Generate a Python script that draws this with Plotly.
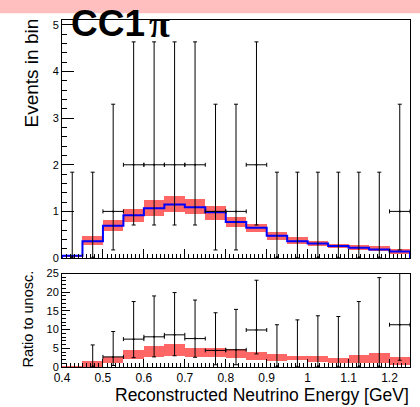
import plotly.graph_objects as go

# ---- data ----
bin_lo = [0.40, 0.45, 0.50, 0.55, 0.60, 0.65, 0.70, 0.75, 0.80, 0.85,
          0.90, 0.95, 1.00, 1.05, 1.10, 1.15, 1.20]
bin_width = 0.05
x_max = 1.25

pred = [0.05, 0.36, 0.69, 0.92, 1.07, 1.15, 1.09, 0.98, 0.77, 0.65,
        0.48, 0.36, 0.31, 0.26, 0.22, 0.18, 0.14]
band_lo = [0.03, 0.27, 0.57, 0.77, 0.91, 0.98, 0.94, 0.81, 0.66, 0.56,
           0.38, 0.31, 0.26, 0.21, 0.18, 0.14, 0.09]
band_hi = [0.07, 0.48, 0.82, 1.06, 1.25, 1.34, 1.27, 1.12, 0.88, 0.74,
           0.56, 0.44, 0.37, 0.31, 0.27, 0.25, 0.19]

data = [0, 0, 1, 2, 2, 2, 2, 1, 1, 2, 0, 0, 0, 0, 0, 0, 1]
data_lo = [0, 0, 0.173, 0.708, 0.708, 0.708, 0.708, 0.173, 0.173, 0.708,
           0, 0, 0, 0, 0, 0, 0.173]
data_hi = [1.841, 1.841, 3.300, 4.638, 4.638, 4.638, 4.638, 3.300, 3.300, 4.638,
           1.841, 1.841, 1.841, 1.841, 1.841, 1.841, 3.300]

ratio = [None, 0, 2.7, 7.45, 8.07, 8.6, 7.6, 4.43, 4.6, 9.9,
         0, 0, 0, 0, 0, 0, 11.3]
ratio_lo = [None, 0, 0.4, 2.5, 2.7, 3.0, 2.6, 0.6, 0.6, 3.5,
            0, 0, 0, 0, 0, 0, 1.8]
ratio_hi = [None, 5.9, 9.5, 17.5, 19.0, 19.9, 17.9, 14.5, 15.4, 23.2,
            11.3, 12.6, 13.7, 13.5, 17.5, 23.9, 37.3]

rband_lo = [0.0, 0.2, 1.1, 2.2, 2.7, 3.0, 2.7, 2.7, 2.6, 2.0,
            1.8, 2.0, 1.5, 1.3, 1.1, 1.1, 0.6]
rband_hi = [0.3, 1.7, 2.8, 4.6, 5.7, 6.4, 5.3, 5.3, 4.9, 4.2,
            3.5, 3.1, 3.0, 2.6, 3.3, 4.0, 2.8]

# ---- derived ----
centers = [b + bin_width / 2 for b in bin_lo]
step_x = [bin_lo[0]] + bin_lo + [x_max, x_max]
step_y = [0] + pred + [pred[-1], 0]

FONT = "Liberation Sans"
BAND = "rgba(255,0,0,0.6)"

fig = go.Figure()

# top panel band
fig.add_trace(go.Bar(x=centers, y=[h - l for h, l in zip(band_hi, band_lo)], base=band_lo,
                     width=bin_width, marker=dict(color=BAND, line=dict(width=0)),
                     xaxis="x", yaxis="y", showlegend=False))
# top panel prediction
fig.add_trace(go.Scatter(x=step_x, y=step_y, mode="lines", line=dict(color="blue", width=2, shape="hv"),
                         xaxis="x", yaxis="y", showlegend=False))
# top panel data
fig.add_trace(go.Scatter(
    x=centers, y=data, mode="markers", marker=dict(size=2, color="black"),
    error_y=dict(type="data", symmetric=False,
                 array=[h - d for h, d in zip(data_hi, data)],
                 arrayminus=[d - l for d, l in zip(data, data_lo)],
                 color="black", thickness=1, width=2),
    error_x=dict(type="data", array=[bin_width / 2 if d > 0 else 0 for d in data],
                 color="black", thickness=1, width=2),
    xaxis="x", yaxis="y", showlegend=False))

# bottom panel band
fig.add_trace(go.Bar(x=centers, y=[h - l for h, l in zip(rband_hi, rband_lo)], base=rband_lo,
                     width=bin_width, marker=dict(color=BAND, line=dict(width=0)),
                     xaxis="x2", yaxis="y2", showlegend=False))
# bottom panel data ratio
fig.add_trace(go.Scatter(
    x=centers, y=ratio, mode="markers", marker=dict(size=2, color="black"),
    error_y=dict(type="data", symmetric=False,
                 array=[None if r is None else h - r for h, r in zip(ratio_hi, ratio)],
                 arrayminus=[None if r is None else r - l for r, l in zip(ratio, ratio_lo)],
                 color="black", thickness=1, width=2),
    error_x=dict(type="data", array=[bin_width / 2 if (r or 0) > 0 else 0 for r in ratio],
                 color="black", thickness=1, width=2),
    xaxis="x2", yaxis="y2", showlegend=False))

L, R, T, B = 62, 10, 20, 40
W, H = 420, 407
pw, ph = W - L - R, H - T - B

def py(pix):
    return (H - B - pix) / ph

def px(pix):
    return (pix - L) / pw

axis_common = dict(showline=True, linecolor="black", linewidth=1, mirror=True,
                   ticks="inside", tickcolor="black", showgrid=False, zeroline=False,
                   tickfont=dict(family=FONT, size=11, color="black"))

fig.update_layout(
    width=W, height=H, margin=dict(l=L, r=R, t=T, b=B),
    paper_bgcolor="white", plot_bgcolor="white", barmode="overlay", bargap=0,
    xaxis=dict(axis_common, range=[0.4, x_max], anchor="y", dtick=0.1, tick0=0.4, ticklen=9,
               showticklabels=False, minor=dict(dtick=0.01, ticklen=4, ticks="inside", tickcolor="black")),
    yaxis=dict(axis_common, range=[0, 5.107], domain=[py(258), 1], anchor="x", dtick=1, ticklen=12,
               minor=dict(dtick=0.2, ticklen=5, ticks="inside", tickcolor="black")),
    xaxis2=dict(axis_common, range=[0.4, x_max], anchor="y2", dtick=0.1, tick0=0.4, ticklen=8,
                tickfont=dict(family=FONT, size=12, color="black"),
                minor=dict(dtick=0.01, ticklen=4, ticks="inside", tickcolor="black")),
    yaxis2=dict(axis_common, range=[0, 25], domain=[0, py(273.5)], anchor="x2", dtick=5, ticklen=8,
                minor=dict(dtick=1, ticklen=4, ticks="inside", tickcolor="black")),
    shapes=[dict(type="rect", xref="paper", yref="paper", x0=px(0), x1=px(W), y0=py(13.3), y1=py(0),
                 fillcolor="rgb(255,191,191)", line=dict(width=0), layer="below")],
    annotations=[
        dict(text="Events in bin", xref="paper", yref="paper", x=px(31), y=py(17),
             xanchor="center", yanchor="top", textangle=-90, showarrow=False,
             font=dict(family=FONT, size=19, color="black")),
        dict(text="Ratio to unosc.", xref="paper", yref="paper", x=px(27), y=py(269),
             xanchor="center", yanchor="top", textangle=-90, showarrow=False,
             font=dict(family=FONT, size=14.5, color="black")),
        dict(text="Reconstructed Neutrino Energy [GeV]", xref="paper", yref="paper", x=px(411), y=py(395),
             xanchor="right", yanchor="middle", showarrow=False,
             font=dict(family=FONT, size=17.5, color="black")),
        dict(text="<b>CC1</b>", xref="paper", yref="paper",
             x=px(69), y=py(0.5), xanchor="left", yanchor="top", showarrow=False,
             font=dict(family=FONT, size=37, color="black")),
        dict(text="<b>π</b>", xref="paper", yref="paper",
             x=px(147), y=py(0.5), xanchor="left", yanchor="top", showarrow=False,
             font=dict(family="Liberation Serif", size=38, color="black")),
    ],
)

fig.write_html("out.html")
